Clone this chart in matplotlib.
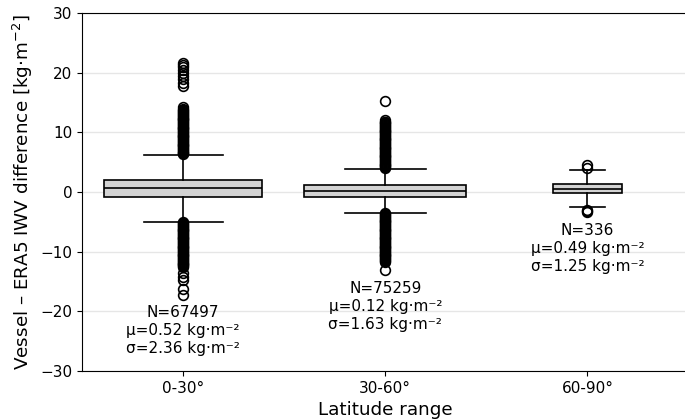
import matplotlib
matplotlib.use("Agg")
import matplotlib.pyplot as plt

# ======================
# Box statistics [kg m-2]
# ======================
labels = ["0-30°", "30-60°", "60-90°"]
counts = [67497, 75259, 336]
means = [0.52, 0.12, 0.49]
stds = [2.36, 1.63, 1.25]

q1 = [-0.8, -0.78, -0.22]
med = [0.67, 0.17, 0.55]
q3 = [2.0, 1.12, 1.34]
whislo = [-4.97, -3.47, -2.57]
whishi = [6.2, 3.9, 3.7]

# outliers (dense bands written out as the overlapping circles seen)
fliers_1 = [
    6.3, 6.45, 6.6, 6.75, 6.9, 7.05, 7.2, 7.35, 7.5, 7.65, 7.8, 7.95,
    8.1, 8.25, 8.4, 8.55, 8.7, 8.85, 9.0, 9.15, 9.3, 9.45, 9.6, 9.75,
    9.9, 10.05, 10.2, 10.35, 10.5, 10.65, 10.8, 10.95, 11.1, 11.25,
    11.4, 11.55, 11.7, 11.85, 12.0, 12.15, 12.3, 12.45, 12.6, 12.75,
    12.9, 13.05, 13.2, 13.35, 13.5, 13.7, 13.9, 14.3,
    17.8, 18.3, 18.9, 19.4, 19.9, 20.4, 20.9, 21.3, 21.7,
    -5.1, -5.25, -5.4, -5.55, -5.7, -5.85, -6.0, -6.15, -6.3, -6.45,
    -6.6, -6.75, -6.9, -7.05, -7.2, -7.35, -7.5, -7.65, -7.8, -7.95,
    -8.1, -8.25, -8.4, -8.55, -8.7, -8.85, -9.0, -9.15, -9.3, -9.45,
    -9.6, -9.75, -9.9, -10.05, -10.2, -10.35, -10.5, -10.65, -10.8,
    -10.95, -11.1, -11.25, -11.4, -11.55, -11.7, -11.85, -12.0, -12.15,
    -12.3, -12.45, -12.6, -13.6, -14.2, -14.7, -16.3, -17.2,
]
fliers_2 = [
    4.0, 4.15, 4.3, 4.45, 4.6, 4.75, 4.9, 5.05, 5.2, 5.35, 5.5, 5.65,
    5.8, 5.95, 6.1, 6.25, 6.4, 6.55, 6.7, 6.85, 7.0, 7.15, 7.3, 7.45,
    7.6, 7.75, 7.9, 8.05, 8.2, 8.35, 8.5, 8.65, 8.8, 8.95, 9.1, 9.25,
    9.4, 9.55, 9.7, 9.85, 10.0, 10.15, 10.3, 10.45, 10.6, 10.75, 10.9,
    11.05, 11.2, 11.35, 11.5, 11.65, 11.8, 12.0, 15.3,
    -3.6, -3.75, -3.9, -4.05, -4.2, -4.35, -4.5, -4.65, -4.8, -4.95,
    -5.1, -5.25, -5.4, -5.55, -5.7, -5.85, -6.0, -6.15, -6.3, -6.45,
    -6.6, -6.75, -6.9, -7.05, -7.2, -7.35, -7.5, -7.65, -7.8, -7.95,
    -8.1, -8.25, -8.4, -8.55, -8.7, -8.85, -9.0, -9.15, -9.3, -9.45,
    -9.6, -9.75, -9.9, -10.05, -10.2, -10.35, -10.5, -10.65, -10.8,
    -10.95, -11.1, -11.25, -11.4, -11.55, -11.7, -13.1,
]
fliers_3 = [4.0, 4.6, -3.0, -3.2, -3.4]
fliers = [fliers_1, fliers_2, fliers_3]

widths = [0.78, 0.80, 0.34]

stats = []
for i in range(3):
    stats.append(dict(label=labels[i], med=med[i], q1=q1[i], q3=q3[i],
                      whislo=whislo[i], whishi=whishi[i], fliers=fliers[i]))

# ======================
# Plot
# ======================
fig = plt.figure(figsize=(6.85, 4.2), dpi=100)
ax = fig.add_axes([0.12, 0.117, 0.885, 0.852])

ax.bxp(stats, positions=[1, 2, 3], widths=widths, patch_artist=True,
       boxprops=dict(facecolor="lightgray", edgecolor="black", linewidth=1.2),
       medianprops=dict(color="black", linewidth=1.2),
       whiskerprops=dict(color="black", linewidth=1.2),
       capprops=dict(color="black", linewidth=1.2),
       flierprops=dict(marker="o", markerfacecolor="none",
                       markeredgecolor="black", markersize=7,
                       markeredgewidth=1.2))

for i in range(3):
    txt = "N=%d\nμ=%.2f kg·m⁻²\nσ=%.2f kg·m⁻²" % (counts[i], means[i], stds[i])
    ax.text(i + 1, min(fliers[i]) - 1.8, txt, ha="center", va="top",
            fontsize=11, linespacing=1.25)

ax.set_xlim(0.5, 3.5)
ax.set_ylim(-30, 30)
ax.set_yticks([-30, -20, -10, 0, 10, 20, 30])
ax.yaxis.grid(True, color="#e6e6e6", linewidth=1)
ax.set_axisbelow(True)
ax.tick_params(labelsize=11)
ax.set_xlabel("Latitude range", fontsize=13.2)
ax.set_ylabel("Vessel – ERA5 IWV difference [kg·m$^{-2}$]", fontsize=13.2)

fig.savefig("out.png", dpi=100)
